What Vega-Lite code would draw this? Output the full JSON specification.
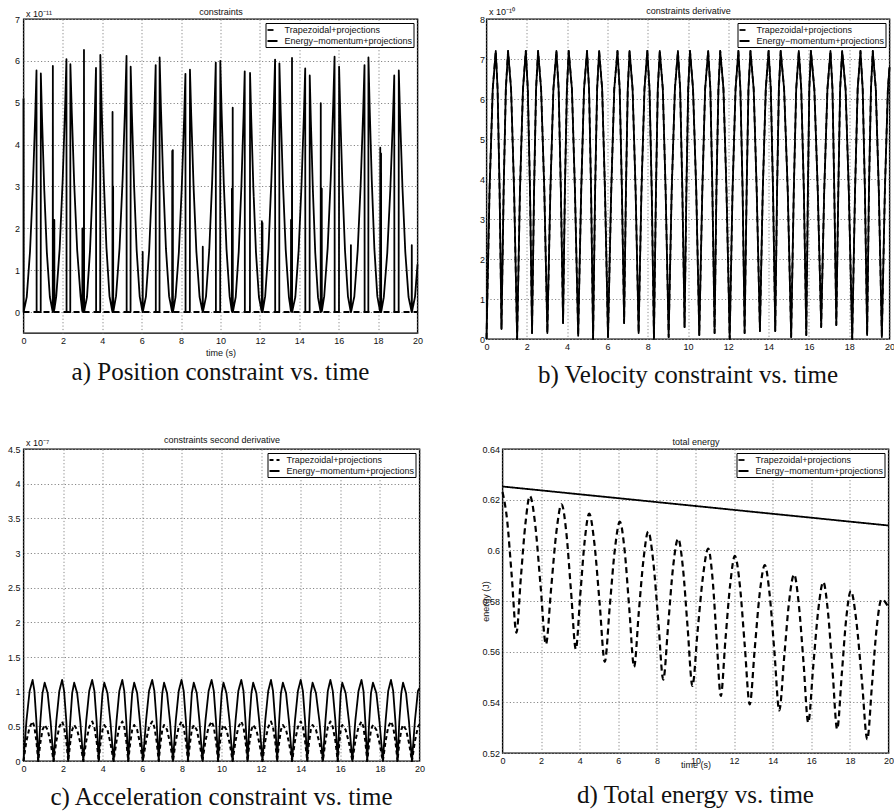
{
"$schema": "https://vega.github.io/schema/vega-lite/v6.json",
"background": "white",
"padding": {"left": 6.5, "top": 5, "right": 0, "bottom": 0},
"config": {
 "view": {"stroke": "black", "strokeWidth": 1.4},
 "font": "Liberation Sans",
 "axis": {"domain": false, "ticks": false, "minExtent": 0, "labelFlush": false, "labelFont": "Liberation Sans", "labelFontSize": 9, "labelColor": "#111", "gridColor": "#888", "gridDash": [1.2, 2.2], "gridWidth": 1, "titleFont": "Liberation Sans", "titleFontSize": 9, "titleFontWeight": "normal", "titleColor": "#111", "labelPadding": 3, "format": "~g"},
 "legend": {"orient": "top-right", "offset": 4, "padding": 1, "strokeColor": "black", "fillColor": "white", "labelFont": "Liberation Sans", "labelFontSize": 9, "labelColor": "#111", "symbolType": "stroke", "symbolStrokeColor": "black", "symbolStrokeWidth": 2, "symbolSize": 100, "rowPadding": 0, "labelOffset": 6},
 "title": {"font": "Liberation Serif", "fontSize": 25, "fontWeight": "normal", "color": "#111", "orient": "bottom", "anchor": "middle"},
 "line": {"color": "black", "strokeWidth": 1.8, "strokeJoin": "round", "strokeCap": "butt"}
},
"datasets": {
 "aT": [{"t": 0, "v": 0}, {"t": 20, "v": 0}],
 "a": [
{"t":0,"v":5.1},{"t":0.005,"v":0},{"t":0.165,"v":0.36},{"t":0.33,"v":1.44},{"t":0.475,"v":2.99},{"t":0.594,"v":4.67},{"t":0.66,"v":5.77},{"t":0.666,"v":0},{"t":0.874,"v":0},{"t":0.88,"v":5.7},
{"t":0.941,"v":4.62},{"t":1.051,"v":2.96},{"t":1.185,"v":1.43},{"t":1.338,"v":0.36},{"t":1.484,"v":0},{"t":1.49,"v":5.88},{"t":1.496,"v":0},{"t":1.56,"v":0.05},{"t":1.565,"v":2.2},{"t":1.57,"v":0.07},
{"t":1.663,"v":0.38},{"t":1.835,"v":1.51},{"t":1.987,"v":3.13},{"t":2.111,"v":4.89},{"t":2.18,"v":6.04},{"t":2.186,"v":0},{"t":2.374,"v":0},{"t":2.38,"v":5.92},
{"t":2.449,"v":4.8},{"t":2.573,"v":3.07},{"t":2.725,"v":1.48},{"t":2.898,"v":0.37},{"t":2.985,"v":0.02},{"t":2.99,"v":2.0},{"t":2.995,"v":0.01},{"t":3.064,"v":0},{"t":3.07,"v":6.26},{"t":3.076,"v":0},
{"t":3.223,"v":0.36},{"t":3.375,"v":1.46},{"t":3.509,"v":3.02},{"t":3.619,"v":4.72},{"t":3.68,"v":5.83},{"t":3.686,"v":0},{"t":3.894,"v":0},{"t":3.9,"v":6.14},
{"t":3.962,"v":4.97},{"t":4.074,"v":3.19},{"t":4.21,"v":1.54},{"t":4.365,"v":0.38},{"t":4.514,"v":0},{"t":4.52,"v":4.78},{"t":4.526,"v":0},{"t":4.545,"v":0},{"t":4.55,"v":3.0},{"t":4.555,"v":0},
{"t":4.698,"v":0.38},{"t":4.875,"v":1.53},{"t":5.031,"v":3.17},{"t":5.159,"v":4.96},{"t":5.23,"v":6.12},{"t":5.236,"v":0},{"t":5.434,"v":0},{"t":5.44,"v":5.86},
{"t":5.501,"v":4.75},{"t":5.611,"v":3.05},{"t":5.745,"v":1.47},{"t":5.898,"v":0.37},{"t":6.044,"v":0},{"t":6.05,"v":1.44},{"t":6.056,"v":0},
{"t":6.215,"v":0.37},{"t":6.38,"v":1.48},{"t":6.525,"v":3.06},{"t":6.644,"v":4.78},{"t":6.71,"v":5.9},{"t":6.716,"v":0},{"t":6.904,"v":0},{"t":6.91,"v":6.08},
{"t":6.974,"v":4.92},{"t":7.089,"v":3.16},{"t":7.23,"v":1.52},{"t":7.39,"v":0.38},{"t":7.544,"v":0},{"t":7.55,"v":3.85},{"t":7.556,"v":0},{"t":7.574,"v":0},{"t":7.58,"v":3.87},{"t":7.586,"v":0},
{"t":7.718,"v":0.36},{"t":7.885,"v":1.42},{"t":8.032,"v":2.95},{"t":8.153,"v":4.61},{"t":8.22,"v":5.69},{"t":8.226,"v":0},{"t":8.444,"v":0},{"t":8.45,"v":5.79},
{"t":8.515,"v":4.69},{"t":8.632,"v":3.01},{"t":8.775,"v":1.45},{"t":8.938,"v":0.36},{"t":9.094,"v":0},{"t":9.1,"v":1.56},{"t":9.106,"v":0},
{"t":9.265,"v":0.37},{"t":9.43,"v":1.49},{"t":9.575,"v":3.1},{"t":9.694,"v":4.83},{"t":9.76,"v":5.96},{"t":9.766,"v":0},{"t":9.984,"v":0},{"t":9.99,"v":6.0},
{"t":10.053,"v":4.86},{"t":10.164,"v":3.11},{"t":10.305,"v":1.5},{"t":10.463,"v":0.38},{"t":10.575,"v":0.02},{"t":10.58,"v":2.95},{"t":10.585,"v":0.01},{"t":10.614,"v":0},{"t":10.62,"v":4.88},{"t":10.626,"v":0},
{"t":10.773,"v":0.36},{"t":10.925,"v":1.44},{"t":11.059,"v":2.99},{"t":11.169,"v":4.66},{"t":11.23,"v":5.75},{"t":11.236,"v":0},{"t":11.494,"v":0},{"t":11.5,"v":5.71},
{"t":11.56,"v":4.63},{"t":11.668,"v":2.97},{"t":11.8,"v":1.43},{"t":11.95,"v":0.36},{"t":12.094,"v":0},{"t":12.1,"v":2.17},{"t":12.106,"v":0},{"t":12.124,"v":0},{"t":12.13,"v":2.13},{"t":12.136,"v":0},
{"t":12.268,"v":0.38},{"t":12.435,"v":1.51},{"t":12.582,"v":3.14},{"t":12.703,"v":4.88},{"t":12.77,"v":6.03},{"t":12.776,"v":0},{"t":12.984,"v":0},{"t":12.99,"v":5.94},
{"t":13.054,"v":4.81},{"t":13.169,"v":3.09},{"t":13.31,"v":1.49},{"t":13.47,"v":0.37},{"t":13.575,"v":0.02},{"t":13.58,"v":2.2},{"t":13.585,"v":0.01},{"t":13.624,"v":0},{"t":13.63,"v":6.07},{"t":13.636,"v":0},
{"t":13.798,"v":0.36},{"t":13.965,"v":1.46},{"t":14.112,"v":3.03},{"t":14.233,"v":4.71},{"t":14.3,"v":5.82},{"t":14.306,"v":0},{"t":14.524,"v":0},{"t":14.53,"v":5.65},
{"t":14.586,"v":4.58},{"t":14.687,"v":2.94},{"t":14.81,"v":1.41},{"t":14.95,"v":0.35},{"t":15.084,"v":0},{"t":15.09,"v":4.99},{"t":15.096,"v":0},{"t":15.135,"v":0.01},{"t":15.14,"v":2.95},{"t":15.145,"v":0.02},
{"t":15.265,"v":0.38},{"t":15.44,"v":1.53},{"t":15.594,"v":3.17},{"t":15.72,"v":4.94},{"t":15.79,"v":6.1},{"t":15.796,"v":0},{"t":16.014,"v":0},{"t":16.02,"v":5.86},
{"t":16.08,"v":4.75},{"t":16.188,"v":3.05},{"t":16.32,"v":1.47},{"t":16.47,"v":0.37},{"t":16.614,"v":0},{"t":16.62,"v":1.6},{"t":16.626,"v":0},
{"t":16.793,"v":0.37},{"t":16.965,"v":1.48},{"t":17.117,"v":3.07},{"t":17.241,"v":4.78},{"t":17.31,"v":5.9},{"t":17.316,"v":0},{"t":17.504,"v":0},{"t":17.51,"v":6.08},
{"t":17.57,"v":4.92},{"t":17.678,"v":3.16},{"t":17.81,"v":1.52},{"t":17.96,"v":0.38},{"t":18.104,"v":0},{"t":18.11,"v":3.93},{"t":18.116,"v":0},{"t":18.144,"v":0},{"t":18.15,"v":3.79},{"t":18.156,"v":0},
{"t":18.288,"v":0.35},{"t":18.465,"v":1.41},{"t":18.621,"v":2.94},{"t":18.749,"v":4.58},{"t":18.82,"v":5.65},{"t":18.826,"v":0},{"t":19.044,"v":0},{"t":19.05,"v":5.77},
{"t":19.116,"v":4.67},{"t":19.235,"v":2.99},{"t":19.38,"v":1.44},{"t":19.545,"v":0.36},{"t":19.704,"v":0},{"t":19.71,"v":1.6},{"t":19.716,"v":0},{"t":19.875,"v":0.37},{"t":20,"v":1.14}
 ],
 "bc": [
{"t":0,"b":0,"ce":0,"ct":0},{"t":0.15,"b":3.7,"ce":0.585,"ct":0.29},{"t":0.31,"b":6.25,"ce":1.01,"ct":0.49},{"t":0.46,"b":7.2,"ce":1.17,"ct":0.57},{"t":0.55,"b":6.25,"ce":1.01,"ct":0.49},{"t":0.65,"b":3.7,"ce":0.585,"ct":0.29},
{"t":0.744,"b":0.25,"ce":0,"ct":0},{"t":0.85,"b":3.7,"ce":0.565,"ct":0.26},{"t":0.96,"b":6.25,"ce":0.98,"ct":0.45},{"t":1.07,"b":7.2,"ce":1.13,"ct":0.52},{"t":1.22,"b":6.25,"ce":0.98,"ct":0.45},{"t":1.37,"b":3.7,"ce":0.565,"ct":0.26},
{"t":1.52,"b":0,"ce":0,"ct":0},{"t":1.66,"b":3.7,"ce":0.585,"ct":0.29},{"t":1.81,"b":6.25,"ce":1.01,"ct":0.49},{"t":1.95,"b":7.2,"ce":1.17,"ct":0.57},{"t":2.05,"b":6.25,"ce":1.01,"ct":0.49},{"t":2.16,"b":3.7,"ce":0.585,"ct":0.29},
{"t":2.26,"b":0.15,"ce":0,"ct":0},{"t":2.36,"b":3.7,"ce":0.565,"ct":0.26},{"t":2.46,"b":6.25,"ce":0.98,"ct":0.45},{"t":2.56,"b":7.2,"ce":1.13,"ct":0.52},{"t":2.71,"b":6.25,"ce":0.98,"ct":0.45},{"t":2.87,"b":3.7,"ce":0.565,"ct":0.26},
{"t":3.02,"b":0.15,"ce":0,"ct":0},{"t":3.17,"b":3.7,"ce":0.585,"ct":0.29},{"t":3.32,"b":6.25,"ce":1.01,"ct":0.49},{"t":3.47,"b":7.2,"ce":1.17,"ct":0.57},{"t":3.58,"b":6.25,"ce":1.01,"ct":0.49},{"t":3.69,"b":3.7,"ce":0.585,"ct":0.29},
{"t":3.8,"b":0.4,"ce":0,"ct":0},{"t":3.89,"b":3.7,"ce":0.565,"ct":0.26},{"t":3.99,"b":6.25,"ce":0.98,"ct":0.45},{"t":4.08,"b":7.2,"ce":1.13,"ct":0.52},{"t":4.24,"b":6.25,"ce":0.98,"ct":0.45},{"t":4.39,"b":3.7,"ce":0.565,"ct":0.26},
{"t":4.55,"b":0.08,"ce":0,"ct":0},{"t":4.7,"b":3.7,"ce":0.585,"ct":0.29},{"t":4.84,"b":6.25,"ce":1.01,"ct":0.49},{"t":4.99,"b":7.2,"ce":1.17,"ct":0.57},{"t":5.09,"b":6.25,"ce":1.01,"ct":0.49},{"t":5.19,"b":3.7,"ce":0.585,"ct":0.29},
{"t":5.29,"b":0,"ce":0,"ct":0},{"t":5.39,"b":3.7,"ce":0.565,"ct":0.26},{"t":5.49,"b":6.25,"ce":0.98,"ct":0.45},{"t":5.59,"b":7.2,"ce":1.13,"ct":0.52},{"t":5.74,"b":6.25,"ce":0.98,"ct":0.45},{"t":5.88,"b":3.7,"ce":0.565,"ct":0.26},
{"t":6.03,"b":0.05,"ce":0,"ct":0},{"t":6.19,"b":3.7,"ce":0.585,"ct":0.29},{"t":6.34,"b":6.25,"ce":1.01,"ct":0.49},{"t":6.5,"b":7.2,"ce":1.17,"ct":0.57},{"t":6.61,"b":6.25,"ce":1.01,"ct":0.49},{"t":6.72,"b":3.7,"ce":0.585,"ct":0.29},
{"t":6.83,"b":0.4,"ce":0,"ct":0},{"t":6.92,"b":3.7,"ce":0.565,"ct":0.26},{"t":7.01,"b":6.25,"ce":0.98,"ct":0.45},{"t":7.1,"b":7.2,"ce":1.13,"ct":0.52},{"t":7.25,"b":6.25,"ce":0.98,"ct":0.45},{"t":7.4,"b":3.7,"ce":0.565,"ct":0.26},
{"t":7.55,"b":0.15,"ce":0,"ct":0},{"t":7.69,"b":3.7,"ce":0.585,"ct":0.29},{"t":7.84,"b":6.25,"ce":1.01,"ct":0.49},{"t":7.98,"b":7.2,"ce":1.17,"ct":0.57},{"t":8.09,"b":6.25,"ce":1.01,"ct":0.49},{"t":8.2,"b":3.7,"ce":0.585,"ct":0.29},
{"t":8.31,"b":0,"ce":0,"ct":0},{"t":8.41,"b":3.7,"ce":0.565,"ct":0.26},{"t":8.5,"b":6.25,"ce":0.98,"ct":0.45},{"t":8.6,"b":7.2,"ce":1.13,"ct":0.52},{"t":8.75,"b":6.25,"ce":0.98,"ct":0.45},{"t":8.89,"b":3.7,"ce":0.565,"ct":0.26},
{"t":9.04,"b":0.05,"ce":0,"ct":0},{"t":9.19,"b":3.7,"ce":0.585,"ct":0.29},{"t":9.35,"b":6.25,"ce":1.01,"ct":0.49},{"t":9.5,"b":7.2,"ce":1.17,"ct":0.57},{"t":9.61,"b":6.25,"ce":1.01,"ct":0.49},{"t":9.72,"b":3.7,"ce":0.585,"ct":0.29},
{"t":9.83,"b":0.3,"ce":0,"ct":0},{"t":9.92,"b":3.7,"ce":0.565,"ct":0.26},{"t":10.01,"b":6.25,"ce":0.98,"ct":0.45},{"t":10.1,"b":7.2,"ce":1.13,"ct":0.52},{"t":10.25,"b":6.25,"ce":0.98,"ct":0.45},{"t":10.41,"b":3.7,"ce":0.565,"ct":0.26},
{"t":10.56,"b":0.1,"ce":0,"ct":0},{"t":10.71,"b":3.7,"ce":0.585,"ct":0.29},{"t":10.85,"b":6.25,"ce":1.01,"ct":0.49},{"t":11.0,"b":7.2,"ce":1.17,"ct":0.57},{"t":11.11,"b":6.25,"ce":1.01,"ct":0.49},{"t":11.21,"b":3.7,"ce":0.585,"ct":0.29},
{"t":11.32,"b":0.15,"ce":0,"ct":0},{"t":11.41,"b":3.7,"ce":0.565,"ct":0.26},{"t":11.51,"b":6.25,"ce":0.98,"ct":0.45},{"t":11.6,"b":7.2,"ce":1.13,"ct":0.52},{"t":11.76,"b":6.25,"ce":0.98,"ct":0.45},{"t":11.91,"b":3.7,"ce":0.565,"ct":0.26},
{"t":12.07,"b":0,"ce":0,"ct":0},{"t":12.21,"b":3.7,"ce":0.585,"ct":0.29},{"t":12.36,"b":6.25,"ce":1.01,"ct":0.49},{"t":12.5,"b":7.2,"ce":1.17,"ct":0.57},{"t":12.6,"b":6.25,"ce":1.01,"ct":0.49},{"t":12.71,"b":3.7,"ce":0.585,"ct":0.29},
{"t":12.81,"b":0.15,"ce":0,"ct":0},{"t":12.91,"b":3.7,"ce":0.565,"ct":0.26},{"t":13.0,"b":6.25,"ce":0.98,"ct":0.45},{"t":13.1,"b":7.2,"ce":1.13,"ct":0.52},{"t":13.26,"b":6.25,"ce":0.98,"ct":0.45},{"t":13.41,"b":3.7,"ce":0.565,"ct":0.26},
{"t":13.57,"b":0.2,"ce":0,"ct":0},{"t":13.71,"b":3.7,"ce":0.585,"ct":0.29},{"t":13.86,"b":6.25,"ce":1.01,"ct":0.49},{"t":14.0,"b":7.2,"ce":1.17,"ct":0.57},{"t":14.11,"b":6.25,"ce":1.01,"ct":0.49},{"t":14.22,"b":3.7,"ce":0.585,"ct":0.29},
{"t":14.33,"b":0.2,"ce":0,"ct":0},{"t":14.42,"b":3.7,"ce":0.565,"ct":0.26},{"t":14.51,"b":6.25,"ce":0.98,"ct":0.45},{"t":14.6,"b":7.2,"ce":1.13,"ct":0.52},{"t":14.77,"b":6.25,"ce":0.98,"ct":0.45},{"t":14.95,"b":3.7,"ce":0.565,"ct":0.26},
{"t":15.12,"b":0.05,"ce":0,"ct":0},{"t":15.25,"b":3.7,"ce":0.585,"ct":0.29},{"t":15.37,"b":6.25,"ce":1.01,"ct":0.49},{"t":15.5,"b":7.2,"ce":1.17,"ct":0.57},{"t":15.62,"b":6.25,"ce":1.01,"ct":0.49},{"t":15.75,"b":3.7,"ce":0.585,"ct":0.29},
{"t":15.87,"b":0.1,"ce":0,"ct":0},{"t":15.95,"b":3.7,"ce":0.565,"ct":0.26},{"t":16.02,"b":6.25,"ce":0.98,"ct":0.45},{"t":16.1,"b":7.2,"ce":1.13,"ct":0.52},{"t":16.27,"b":6.25,"ce":0.98,"ct":0.45},{"t":16.44,"b":3.7,"ce":0.565,"ct":0.26},
{"t":16.61,"b":0.3,"ce":0,"ct":0},{"t":16.76,"b":3.7,"ce":0.585,"ct":0.29},{"t":16.92,"b":6.25,"ce":1.01,"ct":0.49},{"t":17.07,"b":7.2,"ce":1.17,"ct":0.57},{"t":17.17,"b":6.25,"ce":1.01,"ct":0.49},{"t":17.26,"b":3.7,"ce":0.585,"ct":0.29},
{"t":17.36,"b":0.35,"ce":0,"ct":0},{"t":17.46,"b":3.7,"ce":0.565,"ct":0.26},{"t":17.55,"b":6.25,"ce":0.98,"ct":0.45},{"t":17.65,"b":7.2,"ce":1.13,"ct":0.52},{"t":17.82,"b":6.25,"ce":0.98,"ct":0.45},{"t":17.98,"b":3.7,"ce":0.565,"ct":0.26},
{"t":18.15,"b":0,"ce":0,"ct":0},{"t":18.29,"b":3.7,"ce":0.585,"ct":0.29},{"t":18.42,"b":6.25,"ce":1.01,"ct":0.49},{"t":18.56,"b":7.2,"ce":1.17,"ct":0.57},{"t":18.67,"b":6.25,"ce":1.01,"ct":0.49},{"t":18.78,"b":3.7,"ce":0.585,"ct":0.29},
{"t":18.89,"b":0.1,"ce":0,"ct":0},{"t":18.98,"b":3.7,"ce":0.565,"ct":0.26},{"t":19.08,"b":6.25,"ce":0.98,"ct":0.45},{"t":19.17,"b":7.2,"ce":1.13,"ct":0.52},{"t":19.32,"b":6.25,"ce":0.98,"ct":0.45},{"t":19.47,"b":3.7,"ce":0.565,"ct":0.26},
{"t":19.62,"b":0.05,"ce":0,"ct":0},{"t":19.77,"b":3.7,"ce":0.585,"ct":0.29},{"t":19.92,"b":6.25,"ce":1.01,"ct":0.49},{"t":20,"b":6.8,"ce":1.05,"ct":0.53}
 ],
 "dE": [{"t": 0, "v": 0.6252}, {"t": 20, "v": 0.6098}],
 "dT": [
{"t":0,"v":0.623},{"t":0.24,"v":0.6119},{"t":0.48,"v":0.5897},{"t":0.72,"v":0.5675},{"t":0.95,"v":0.5891},{"t":1.19,"v":0.6107},{"t":1.42,"v":0.6215},{"t":1.7,"v":0.6098},{"t":1.97,"v":0.5863},{"t":2.25,"v":0.5629},
{"t":2.52,"v":0.585},{"t":2.79,"v":0.6071},{"t":3.06,"v":0.6182},{"t":3.31,"v":0.6068},{"t":3.55,"v":0.5839},{"t":3.8,"v":0.561},{"t":4.03,"v":0.5824},{"t":4.26,"v":0.6038},{"t":4.49,"v":0.6145},{"t":4.76,"v":0.6028},
{"t":5.03,"v":0.5794},{"t":5.3,"v":0.556},{"t":5.56,"v":0.5781},{"t":5.82,"v":0.6002},{"t":6.08,"v":0.6113},{"t":6.33,"v":0.5998},{"t":6.57,"v":0.5769},{"t":6.82,"v":0.554},{"t":7.06,"v":0.5754},{"t":7.31,"v":0.5967},
{"t":7.55,"v":0.6074},{"t":7.81,"v":0.5957},{"t":8.07,"v":0.5724},{"t":8.33,"v":0.549},{"t":8.59,"v":0.5712},{"t":8.84,"v":0.5935},{"t":9.1,"v":0.6046},{"t":9.35,"v":0.593},{"t":9.59,"v":0.5697},{"t":9.84,"v":0.5465},
{"t":10.11,"v":0.5682},{"t":10.39,"v":0.5899},{"t":10.66,"v":0.6007},{"t":10.88,"v":0.5891},{"t":11.09,"v":0.5658},{"t":11.31,"v":0.5425},{"t":11.55,"v":0.5646},{"t":11.8,"v":0.5867},{"t":12.04,"v":0.5978},{"t":12.3,"v":0.5861},
{"t":12.55,"v":0.5626},{"t":12.81,"v":0.5392},{"t":13.07,"v":0.5612},{"t":13.33,"v":0.5832},{"t":13.59,"v":0.5942},{"t":13.84,"v":0.5827},{"t":14.09,"v":0.5598},{"t":14.34,"v":0.5368},{"t":14.6,"v":0.5583},{"t":14.85,"v":0.5798},
{"t":15.11,"v":0.5905},{"t":15.35,"v":0.5788},{"t":15.6,"v":0.5554},{"t":15.84,"v":0.532},{"t":16.1,"v":0.5542},{"t":16.36,"v":0.5764},{"t":16.62,"v":0.5875},{"t":16.86,"v":0.5759},{"t":17.1,"v":0.5526},{"t":17.34,"v":0.5294},
{"t":17.58,"v":0.5512},{"t":17.81,"v":0.5731},{"t":18.05,"v":0.584},{"t":18.33,"v":0.5723},{"t":18.62,"v":0.5488},{"t":18.9,"v":0.5254},{"t":19.15,"v":0.5475},{"t":19.39,"v":0.5696},{"t":19.64,"v":0.5807},{"t":19.82,"v":0.5797},{"t":20,"v":0.5774}
 ]
},
"columns": 1,
"align": "none",
"spacing": 45,
"resolve": {"scale": {"strokeDash": "independent"}, "legend": {"strokeDash": "independent"}},
"concat": [
 {"hconcat": [
  {"width": 394, "height": 314,
   "title": {"text": "a) Position constraint vs. time", "offset": 3},
   "resolve": {"axis": {"x": "independent", "y": "independent"}},
   "layer": [
    {"data": {"name": "aT"}, "mark": {"type": "line", "strokeWidth": 2},
     "encoding": {
      "x": {"field": "t", "type": "quantitative", "scale": {"domain": [0, 20], "nice": false}, "axis": {"values": [0,2,4,6,8,10,12,14,16,18,20], "title": "time (s)", "titlePadding": 3}},
      "y": {"field": "v", "type": "quantitative", "scale": {"domain": [-0.5, 7], "nice": false}, "axis": {"values": [0,1,2,3,4,5,6,7], "title": "x 10⁻¹¹", "titleAngle": 0, "titleAlign": "left", "titleBaseline": "alphabetic", "titleX": 2, "titleY": -3, "labelPadding": 4}},
      "strokeDash": {"datum": "Trapezoidal+projections", "type": "nominal", "scale": {"domain": ["Trapezoidal+projections", "Energy−momentum+projections"], "range": [[6, 4], [1, 0]]}, "legend": {"title": null}}
     }},
    {"data": {"name": "a"}, "mark": "line",
     "encoding": {
      "x": {"field": "t", "type": "quantitative", "axis": {"orient": "top", "title": "constraints", "labels": false, "grid": false, "titlePadding": 3}},
      "y": {"field": "v", "type": "quantitative", "axis": null},
      "strokeDash": {"datum": "Energy−momentum+projections", "type": "nominal"}
     }}
   ]},
  {"width": 403, "height": 320,
   "title": {"text": "b) Velocity constraint vs. time", "offset": 12},
   "resolve": {"axis": {"x": "independent", "y": "independent"}},
   "layer": [
    {"data": {"name": "bc"}, "mark": "line",
     "encoding": {
      "x": {"field": "t", "type": "quantitative", "scale": {"domain": [0, 20], "nice": false}, "axis": {"values": [0,2,4,6,8,10,12,14,16,18,20], "title": null}},
      "y": {"field": "b", "type": "quantitative", "scale": {"domain": [0, 8], "nice": false}, "axis": {"values": [0,1,2,3,4,5,6,7,8], "title": "x 10⁻¹⁰", "titleAngle": 0, "titleAlign": "left", "titleBaseline": "alphabetic", "titleX": 2, "titleY": -5, "labelPadding": 2}},
      "strokeDash": {"datum": "Energy−momentum+projections", "type": "nominal", "scale": {"domain": ["Trapezoidal+projections", "Energy−momentum+projections"], "range": [[6, 4], [1, 0]]}, "legend": {"title": null}}
     }},
    {"data": {"name": "bc"}, "mark": {"type": "line", "strokeWidth": 1.8},
     "encoding": {
      "x": {"field": "t", "type": "quantitative", "axis": {"orient": "top", "title": "constraints derivative", "labels": false, "grid": false, "titlePadding": 4}},
      "y": {"field": "b", "type": "quantitative", "axis": null},
      "strokeDash": {"datum": "Trapezoidal+projections", "type": "nominal"}
     }}
   ]}
 ], "spacing": 55, "resolve": {"scale": {"strokeDash": "independent"}, "legend": {"strokeDash": "independent"}}},
 {"hconcat": [
  {"width": 396, "height": 312,
   "title": {"text": "c) Acceleration constraint vs. time", "offset": 12},
   "resolve": {"axis": {"x": "independent", "y": "independent"}},
   "layer": [
    {"data": {"name": "bc"}, "mark": {"type": "line", "strokeWidth": 2},
     "encoding": {
      "x": {"field": "t", "type": "quantitative", "scale": {"domain": [0, 20], "nice": false}, "axis": {"values": [0,2,4,6,8,10,12,14,16,18,20], "title": null}},
      "y": {"field": "ct", "type": "quantitative", "scale": {"domain": [0, 4.5], "nice": false}, "axis": {"values": [0,0.5,1,1.5,2,2.5,3,3.5,4,4.5], "title": "x 10⁻⁷", "titleAngle": 0, "titleAlign": "left", "titleBaseline": "alphabetic", "titleX": 2, "titleY": -4, "labelPadding": 3.5}},
      "strokeDash": {"datum": "Trapezoidal+projections", "type": "nominal", "scale": {"domain": ["Trapezoidal+projections", "Energy−momentum+projections"], "range": [[4, 3], [1, 0]]}, "legend": {"title": null}}
     }},
    {"data": {"name": "bc"}, "mark": "line",
     "encoding": {
      "x": {"field": "t", "type": "quantitative", "axis": {"orient": "top", "title": "constraints second derivative", "labels": false, "grid": false, "titlePadding": 5}},
      "y": {"field": "ce", "type": "quantitative", "axis": null},
      "strokeDash": {"datum": "Energy−momentum+projections", "type": "nominal"}
     }}
   ]},
  {"width": 386, "height": 304,
   "title": {"text": "d) Total energy vs. time", "offset": 14},
   "resolve": {"axis": {"x": "independent", "y": "independent"}},
   "layer": [
    {"data": {"name": "dT"}, "mark": {"type": "line", "strokeWidth": 2.2, "interpolate": "monotone"},
     "encoding": {
      "x": {"field": "t", "type": "quantitative", "scale": {"domain": [0, 20], "nice": false}, "axis": {"values": [0,2,4,6,8,10,12,14,16,18,20], "title": "time (s)", "titlePadding": -5}},
      "y": {"field": "v", "type": "quantitative", "scale": {"domain": [0.52, 0.64], "nice": false}, "axis": {"values": [0.52,0.54,0.56,0.58,0.6,0.62,0.64], "title": "energy (J)", "titleX": -17, "titleY": 152, "titleBaseline": "middle", "titleAlign": "center", "titleAngle": -90}},
      "strokeDash": {"datum": "Trapezoidal+projections", "type": "nominal", "scale": {"domain": ["Trapezoidal+projections", "Energy−momentum+projections"], "range": [[6, 4], [1, 0]]}, "legend": {"title": null}}
     }},
    {"data": {"name": "dE"}, "mark": "line",
     "encoding": {
      "x": {"field": "t", "type": "quantitative", "axis": {"orient": "top", "title": "total energy", "labels": false, "grid": false, "titlePadding": 3}},
      "y": {"field": "v", "type": "quantitative", "axis": null},
      "strokeDash": {"datum": "Energy−momentum+projections", "type": "nominal"}
     }}
   ]}
 ], "spacing": 55, "resolve": {"scale": {"strokeDash": "independent"}, "legend": {"strokeDash": "independent"}}}
]
}
